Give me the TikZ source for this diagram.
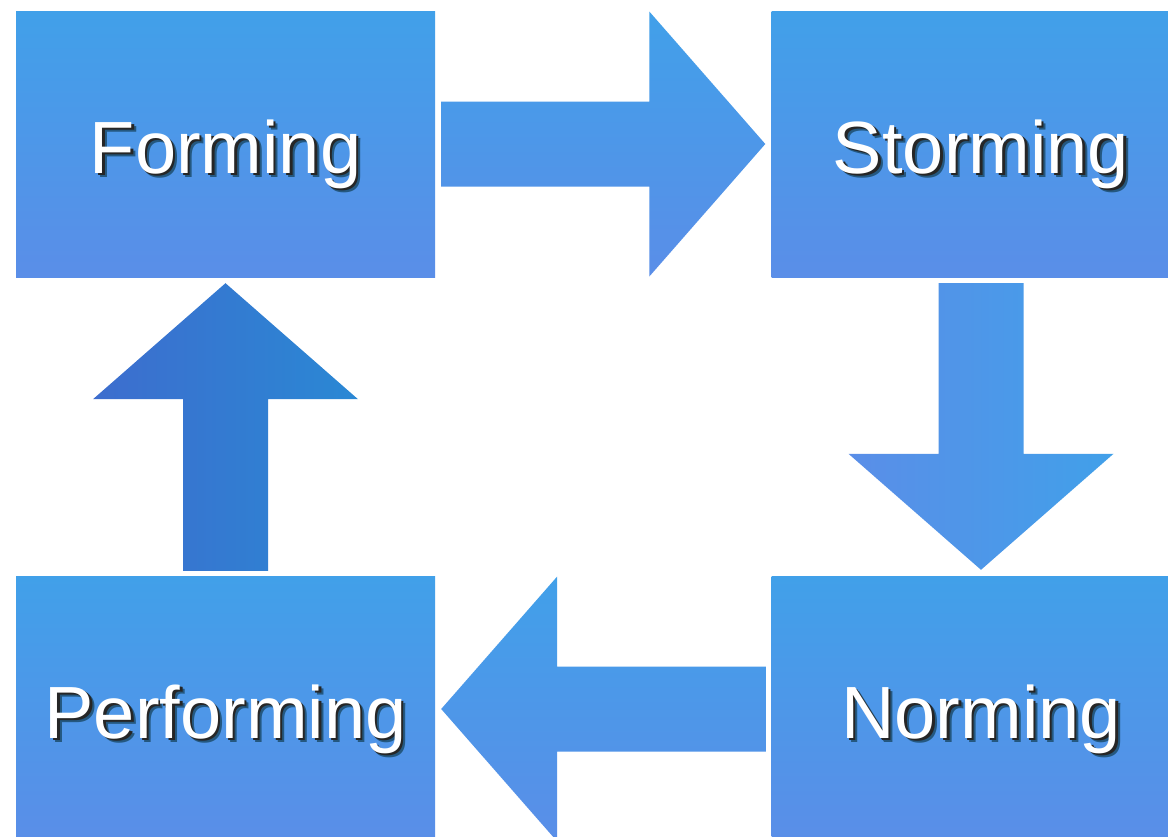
\documentclass[tikz,border=0pt]{standalone}
\usepackage{fontspec}
\setmainfont{Liberation Sans}
\usetikzlibrary{calc}
\definecolor{boxtop}{HTML}{41A0E9}
\definecolor{boxbot}{HTML}{5A8EE8}
\definecolor{upleft}{HTML}{3D6DCE}
\definecolor{upright}{HTML}{2A88D4}
\colorlet{shadowcol}{black!85}
\colorlet{shadowsoft}{black!45!boxtop}
\tikzstyle{stage}=[rectangle, inner sep=0pt, minimum width=419pt,
minimum height=266pt, top color=boxtop, bottom color=boxbot, text=white,
font=\fontsize{74}{80}\selectfont, text height=62pt, text depth=4pt]
\tikzstyle{vshade}=[top color=boxtop, bottom color=boxbot]
\tikzstyle{downshade}=[left color=boxbot, right color=boxtop]
\tikzstyle{upshade}=[left color=upleft, right color=upright]
% white label with a dark drop shadow
\newcommand\stagelabel[1]{%
  \rlap{\hspace{4.5pt}\raisebox{-4.5pt}{\color{shadowsoft}#1}}%
  \rlap{\hspace{2.5pt}\raisebox{-2.5pt}{\color{shadowcol}#1}}#1}
% block arrow from #2 to the tip #3
\newcommand\blockarrow[3]{%
  \coordinate (ahead) at ($(#3)!116pt!(#2)$);
  \path[#1] ($(#2)!42.5pt!90:(#3)$) -- ($(ahead)!42.5pt!90:(#3)$)
    -- ($(ahead)!132.5pt!90:(#3)$) -- (#3)
    -- ($(ahead)!132.5pt!-90:(#3)$) -- ($(ahead)!42.5pt!-90:(#3)$)
    -- ($(#2)!42.5pt!-90:(#3)$) -- cycle;}

\begin{document}
\begin{tikzpicture}[x=1pt, y=-1pt]
  \clip (0,0) rectangle (1168,836);
  \fill[white] (0,0) rectangle (1168,836);
  % Stages
  \node[stage] (forming) at (225.5,144) {\stagelabel{Forming}};
  \node[stage] (storming) at (981,144) {\stagelabel{Storming}};
  \node[stage] (norming) at (981,709) {\stagelabel{Norming}};
  \node[stage] (performing) at (225.5,709) {\stagelabel{Performing}};
  % Arrow ends
  \coordinate (fs1) at ($(forming.east)+(6,0)$);
  \coordinate (fs2) at ($(storming.west)+(-6,0)$);
  \coordinate (sn1) at ($(storming.south)+(0,6)$);
  \coordinate (sn2) at ($(norming.north)+(0,-6)$);
  \coordinate (np1) at ($(norming.west)+(-5,0)$);
  \coordinate (np2) at ($(performing.east)+(6,0)$);
  \coordinate (pf1) at ($(performing.north)+(0,-5)$);
  \coordinate (pf2) at ($(forming.south)+(0,6)$);
  % Arrows
  \blockarrow{vshade}{fs1}{fs2}
  \blockarrow{downshade}{sn1}{sn2}
  \blockarrow{vshade}{np1}{np2}
  \blockarrow{upshade}{pf1}{pf2}
\end{tikzpicture}
\end{document}
